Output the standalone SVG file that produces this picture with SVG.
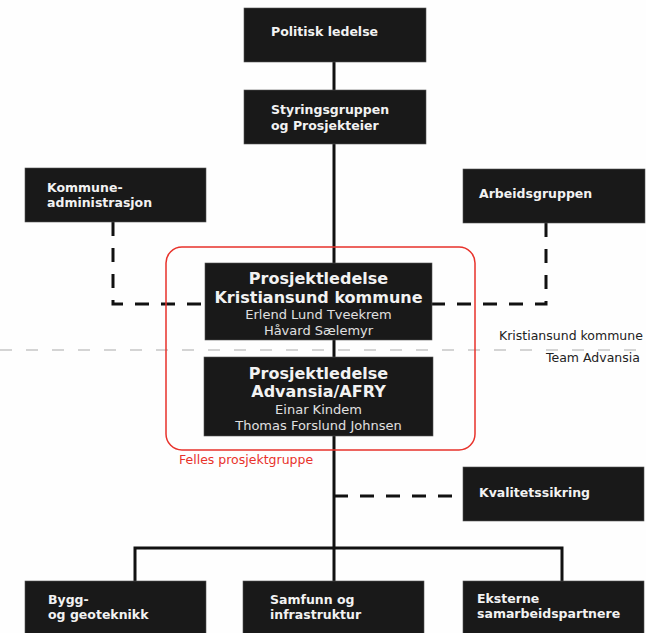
<svg xmlns="http://www.w3.org/2000/svg" width="646" height="633" viewBox="0 0 646 633">
<style>
.box{fill:#191919;stroke:#555;stroke-width:0.6}
.lbl{font-family:"DejaVu Sans",Verdana,sans-serif;font-weight:bold;font-size:12.5px;fill:#f2f2f2}
.ttl{font-family:"DejaVu Sans",Verdana,sans-serif;font-weight:bold;font-size:16px;fill:#f2f2f2;text-anchor:middle}
.nm{font-family:"DejaVu Sans",Verdana,sans-serif;font-size:13px;fill:#e0e0e0;text-anchor:middle}
.sm{font-family:"DejaVu Sans",Verdana,sans-serif;font-size:12.5px;fill:#222}
.solid{fill:none;stroke:#111;stroke-width:3}
.dash{fill:none;stroke:#111;stroke-width:3;stroke-dasharray:14 12}
</style>
<rect width="646" height="633" fill="#fefefe"/>
<g id="connectors">
<line class="solid" x1="334" y1="62" x2="334" y2="581"/>
<path class="solid" d="M135 581 V548 H562 V581"/>
<path class="dash" d="M113 222 V304 H205"/>
<path class="dash" d="M546 223 V304 H432"/>
<path class="dash" d="M334 496 H463"/>
</g>
<g id="divider">
<line x1="0" y1="350" x2="646" y2="350" stroke="#aaa" stroke-width="1.2" stroke-dasharray="12 14"/>
<text class="sm" x="499" y="340">Kristiansund kommune</text>
<text class="sm" x="546" y="362">Team Advansia</text>
</g>
<g id="felles">
<rect x="166" y="247" width="309" height="203" rx="16" fill="none" stroke="#e8322b" stroke-width="1.5"/>
<text x="179" y="464" font-family="DejaVu Sans,Verdana,sans-serif" font-size="12.5" fill="#e8322b">Felles prosjektgruppe</text>
</g>
<g id="politisk">
<rect class="box" x="244" y="8" width="182" height="54"/>
<text class="lbl" x="271" y="36">Politisk ledelse</text>
</g>
<g id="styring">
<rect class="box" x="244" y="90" width="182" height="54"/>
<text class="lbl" x="271" y="114">Styringsgruppen</text>
<text class="lbl" x="271" y="130">og Prosjekteier</text>
</g>
<g id="kommuneadm">
<rect class="box" x="25" y="168" width="181" height="54"/>
<text class="lbl" x="47" y="192">Kommune-</text>
<text class="lbl" x="47" y="207">administrasjon</text>
</g>
<g id="arbeidsgruppen">
<rect class="box" x="463" y="169" width="182" height="54"/>
<text class="lbl" x="479" y="198">Arbeidsgruppen</text>
</g>
<g id="pl-kristiansund">
<rect class="box" x="205" y="263" width="227" height="77"/>
<text class="ttl" x="318.5" y="284">Prosjektledelse</text>
<text class="ttl" x="318.5" y="303">Kristiansund kommune</text>
<text class="nm" x="318.5" y="319">Erlend Lund Tveekrem</text>
<text class="nm" x="318.5" y="335">Håvard Sælemyr</text>
</g>
<g id="pl-advansia">
<rect class="box" x="204" y="357" width="229" height="79"/>
<text class="ttl" x="318.5" y="379">Prosjektledelse</text>
<text class="ttl" x="318.5" y="397">Advansia/AFRY</text>
<text class="nm" x="318.5" y="414">Einar Kindem</text>
<text class="nm" x="318.5" y="430">Thomas Forslund Johnsen</text>
</g>
<g id="kvalitet">
<rect class="box" x="463" y="467" width="181" height="54"/>
<text class="lbl" x="479" y="497">Kvalitetssikring</text>
</g>
<g id="bygg">
<rect class="box" x="25" y="581" width="181" height="60"/>
<text class="lbl" x="48" y="604">Bygg-</text>
<text class="lbl" x="48" y="619">og geoteknikk</text>
</g>
<g id="samfunn">
<rect class="box" x="243" y="581" width="181" height="60"/>
<text class="lbl" x="270" y="604">Samfunn og</text>
<text class="lbl" x="270" y="619">infrastruktur</text>
</g>
<g id="eksterne">
<rect class="box" x="463" y="581" width="181" height="60"/>
<text class="lbl" x="477" y="603">Eksterne</text>
<text class="lbl" x="477" y="618">samarbeidspartnere</text>
</g>
</svg>
